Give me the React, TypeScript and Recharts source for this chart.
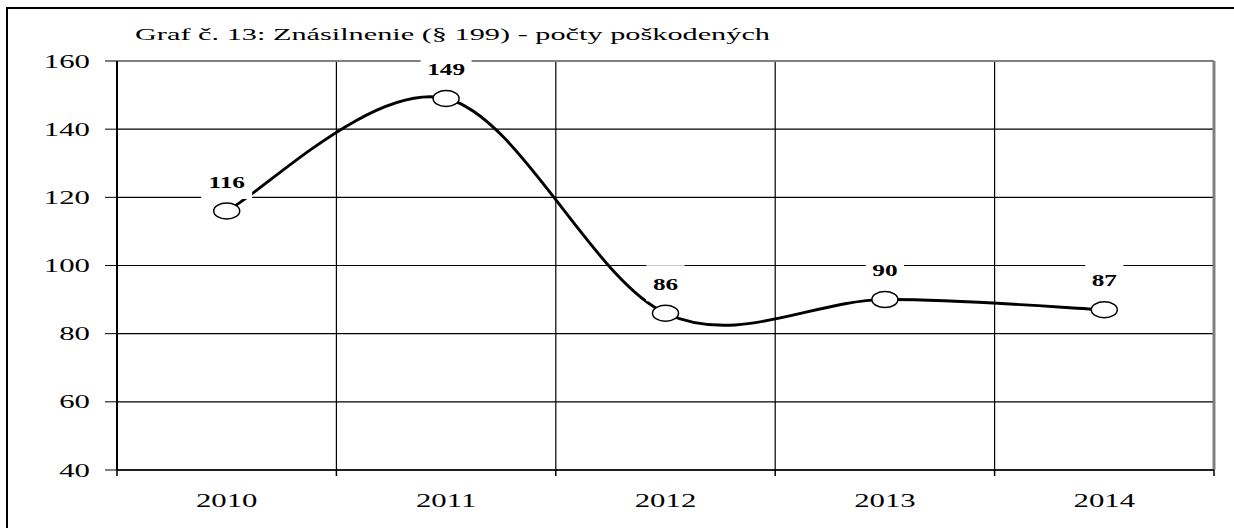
import { LineChart, Line, XAxis, YAxis, CartesianGrid, LabelList } from "recharts";

const years = ["2010", "2011", "2012", "2013", "2014"];
const victims = [116, 149, 86, 90, 87];
const yTicks = [40, 60, 80, 100, 120, 140, 160];
const title = "Graf č. 13: Znásilnenie (§ 199) - počty poškodených";

const data = years.map((year, i) => ({ year, victims: victims[i] }));

const SERIF = "'Liberation Serif', 'Times New Roman', serif";
const STRETCH = 1.62;

// Excel-like smoothed line (bezier with 1/6 neighbour tangents)
function excelSmooth(context: any) {
  let pts: number[][] = [];
  return {
    areaStart() {},
    areaEnd() {},
    lineStart() {
      pts = [];
    },
    point(x: number, y: number) {
      pts.push([+x, +y]);
    },
    lineEnd() {
      const n = pts.length;
      if (!n) return;
      context.moveTo(pts[0][0], pts[0][1]);
      for (let i = 0; i < n - 1; i++) {
        const p0 = pts[Math.max(i - 1, 0)];
        const p1 = pts[i];
        const p2 = pts[i + 1];
        const p3 = pts[Math.min(i + 2, n - 1)];
        context.bezierCurveTo(
          p1[0] + (p2[0] - p0[0]) / 6,
          p1[1] + (p2[1] - p0[1]) / 6,
          p2[0] - (p3[0] - p1[0]) / 6,
          p2[1] - (p3[1] - p1[1]) / 6,
          p2[0],
          p2[1]
        );
      }
    },
  };
}

const Marker = (p: any) => (
  <ellipse key={p.index} cx={p.cx} cy={p.cy} rx={13} ry={8} fill="#fff" stroke="#000" strokeWidth={1.5} />
);

const ValueLabel = (p: any) => {
  const x = p.x ?? p.viewBox?.x;
  const y = p.y ?? p.viewBox?.y;
  const txt = String(p.value);
  const w = txt.length * 8 * 1.58 + 13;
  const cy = y - 29;
  return (
    <g>
      <rect x={x - w / 2} y={cy - 19} width={w} height={36} fill="#fff" />
      <text
        transform={`translate(${x},${cy}) scale(1.58,1)`}
        textAnchor="middle"
        dy="0.35em"
        fontFamily={SERIF}
        fontWeight="bold"
        fontSize={16}
        fill="#000"
      >
        {txt}
      </text>
    </g>
  );
};

const YTick = (p: any) => (
  <text
    transform={`translate(${p.x},${p.y}) scale(${STRETCH},1)`}
    textAnchor="end"
    dy="0.35em"
    fontFamily={SERIF}
    fontSize={19}
    fill="#000"
  >
    {p.payload.value}
  </text>
);

const XTick = (p: any) => {
  const half = p.payload.offset ?? p.width / (p.visibleTicksCount || years.length) / 2;
  const isLast = p.index === years.length - 1;
  return (
    <g>
      <line x1={p.x - half} x2={p.x - half} y1={p.y - 6} y2={p.y} stroke="#000" strokeWidth={1.5} />
      {isLast && <line x1={p.x + half} x2={p.x + half} y1={p.y - 6} y2={p.y} stroke="#000" strokeWidth={1.5} />}
      <text
        transform={`translate(${p.x},${p.y + 24}) scale(${STRETCH},1)`}
        textAnchor="middle"
        dy="0.35em"
        fontFamily={SERIF}
        fontSize={19}
        fill="#000"
      >
        {p.payload.value}
      </text>
    </g>
  );
};

export default function App() {
  return (
    <div
      style={{
        position: "fixed",
        left: 0,
        top: 0,
        width: 1234,
        height: 528,
        overflow: "hidden",
        background: "#fff",
      }}
    >
      <div
        style={{
          position: "absolute",
          left: 6,
          top: 7,
          width: 2000,
          height: 2000,
          borderLeft: "2px solid #000",
          borderTop: "2px solid #000",
        }}
      />
      <div style={{ position: "absolute", left: 0, top: 0 }}>
        <LineChart width={1234} height={528} data={data} margin={{ top: 61, right: 20, bottom: 0, left: 0 }}>
          <CartesianGrid
            stroke="#000"
            strokeWidth={1.2}
            verticalCoordinatesGenerator={({ offset }: any) =>
              [1, 2, 3, 4].map((i) => offset.left + (i * offset.width) / years.length)
            }
          />
          <CartesianGrid
            stroke="#808080"
            strokeWidth={2}
            vertical={false}
            horizontalCoordinatesGenerator={({ offset }: any) => [offset.top]}
          />
          <CartesianGrid
            stroke="#808080"
            strokeWidth={3}
            horizontal={false}
            verticalCoordinatesGenerator={({ offset }: any) => [offset.left + offset.width]}
          />
          <XAxis
            dataKey="year"
            scale="band"
            height={58}
            tickSize={6}
            tickMargin={0}
            tickLine={false}
            axisLine={{ stroke: "#000", strokeWidth: 1.5 }}
            tick={<XTick />}
            interval={0}
          />
          <YAxis
            domain={[40, 160]}
            ticks={yTicks}
            width={117}
            tickSize={12}
            tickMargin={15}
            tickLine={{ stroke: "#000", strokeWidth: 1 }}
            axisLine={{ stroke: "#000", strokeWidth: 2 }}
            tick={<YTick />}
            interval={0}
          />
          {/* labels first so their white boxes cut the gridlines but not the curve */}
          <Line
            dataKey="victims"
            type={excelSmooth as any}
            stroke="none"
            dot={false}
            activeDot={false}
            legendType="none"
            isAnimationActive={false}
          >
            <LabelList dataKey="victims" content={ValueLabel} />
          </Line>
          <Line
            dataKey="victims"
            type={excelSmooth as any}
            stroke="#000"
            strokeWidth={2.9}
            dot={Marker}
            activeDot={false}
            isAnimationActive={false}
          />
        </LineChart>
      </div>
      <svg width={1234} height={60} style={{ position: "absolute", left: 0, top: 0 }}>
        <text
          x={135}
          y={40}
          fontFamily={SERIF}
          fontSize={17.5}
          textLength={635}
          lengthAdjust="spacingAndGlyphs"
          fill="#000"
        >
          {title}
        </text>
      </svg>
    </div>
  );
}
